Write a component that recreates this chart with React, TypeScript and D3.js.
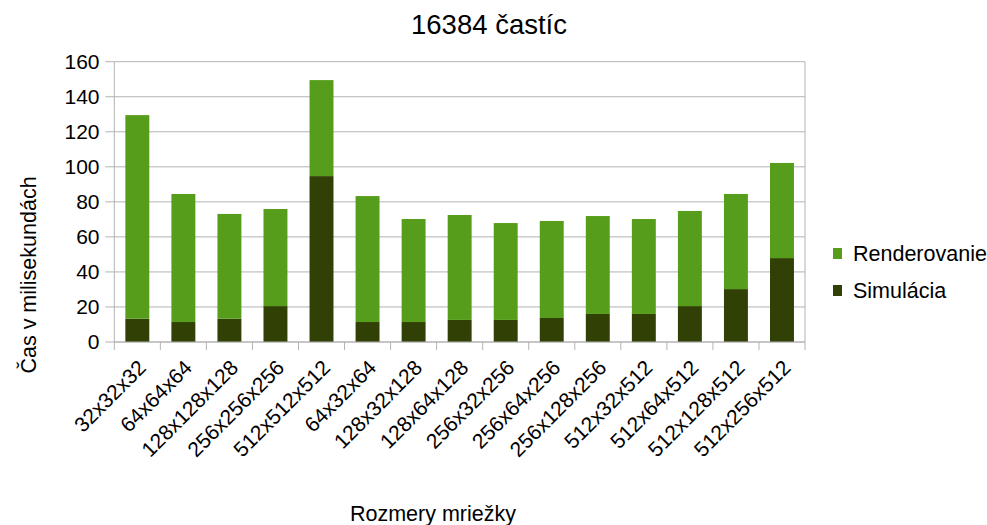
import React from "react";
import * as d3 from "d3";

const categories = [
  "32x32x32", "64x64x64", "128x128x128", "256x256x256", "512x512x512",
  "64x32x64", "128x32x128", "128x64x128", "256x32x256", "256x64x256",
  "256x128x256", "512x32x512", "512x64x512", "512x128x512", "512x256x512",
];
const totals = [129.5, 84.5, 73.1, 75.9, 149.5, 83.3, 70.2, 72.5, 67.9, 69.1, 71.9, 70.2, 74.8, 84.5, 102.2];
const simulacia = [13.3, 11.4, 13.3, 20.5, 94.7, 11.4, 11.4, 12.6, 12.6, 13.7, 16.0, 16.0, 20.5, 30.2, 47.9];
const renderovanie = totals.map((t, i) => +(t - simulacia[i]).toFixed(1));
const yTicks = [0, 20, 40, 60, 80, 100, 120, 140, 160];
const seriesNames = ["Renderovanie", "Simulácia"];
const colors = { Renderovanie: "#579d1c", Simulácia: "#314004" };

const W = 987, H = 525;
const left = 114.3, right = 805, top = 61.7, bottom = 342;
const FONT = "Liberation Sans, Arial, sans-serif";

export default function App() {
  const x = d3.scaleBand<string>().domain(categories).range([left, right]).paddingInner(0.48).paddingOuter(0.24);
  const xb = d3.scaleBand<string>().domain(categories).range([left, right]);
  const y = d3.scaleLinear().domain([0, 160]).range([bottom, top]);
  const stackData = categories.map((c, i) => ({ cat: c, Simulácia: simulacia[i], Renderovanie: renderovanie[i] }));
  const stack = d3.stack<any>().keys(["Simulácia", "Renderovanie"])(stackData);
  const bounds = categories.map((c) => xb(c)!).concat([right]);

  return (
    <svg width={W} height={H} style={{ position: "absolute", left: 0, top: 0, background: "#fff" }} fontFamily={FONT}>
      <rect x={0} y={0} width={W} height={H} fill="#fff" />
      <text x={489} y={34} textAnchor="middle" fontSize={27.5} fill="#000">16384 častíc</text>
      {yTicks.map((t) => (
        <g key={t}>
          <line x1={left} x2={right} y1={y(t)} y2={y(t)} stroke="#b3b3b3" strokeWidth={1} />
          <line x1={left - 9} x2={left} y1={y(t)} y2={y(t)} stroke="#b3b3b3" strokeWidth={1} />
          <text x={99.5} y={y(t) + 7} textAnchor="end" fontSize={21} fill="#000">{t}</text>
        </g>
      ))}
      <line x1={left} x2={left} y1={top} y2={bottom} stroke="#b3b3b3" />
      <line x1={right} x2={right} y1={top} y2={bottom} stroke="#b3b3b3" />
      {bounds.map((b, i) => (
        <line key={i} x1={b} x2={b} y1={bottom} y2={bottom + 8} stroke="#b3b3b3" />
      ))}
      {stack.map((s) => (
        <g key={s.key} fill={(colors as any)[s.key]}>
          {s.map((d: any, i: number) => (
            <rect key={i} x={x(categories[i])} width={x.bandwidth()} y={y(d[1])} height={y(d[0]) - y(d[1])} />
          ))}
        </g>
      ))}
      <line x1={left} x2={right} y1={bottom} y2={bottom} stroke="#b3b3b3" />
      {categories.map((c) => (
        <text key={c} transform={`translate(${xb(c)! + xb.bandwidth() / 2 + 10},${369}) rotate(-45)`} textAnchor="end" fontSize={21} fill="#000">{c}</text>
      ))}
      <text transform={`translate(36,275) rotate(-90)`} textAnchor="middle" fontSize={21.5} fill="#000">Čas v milisekundách</text>
      <text x={433} y={521} textAnchor="middle" fontSize={21.5} fill="#000">Rozmery mriežky</text>
      {seriesNames.map((n, i) => (
        <g key={n}>
          <rect x={833} y={248 + i * 37} width={9} height={11} fill={(colors as any)[n]} />
          <text x={853} y={261 + i * 37} fontSize={21.5} fill="#000">{n}</text>
        </g>
      ))}
    </svg>
  );
}
